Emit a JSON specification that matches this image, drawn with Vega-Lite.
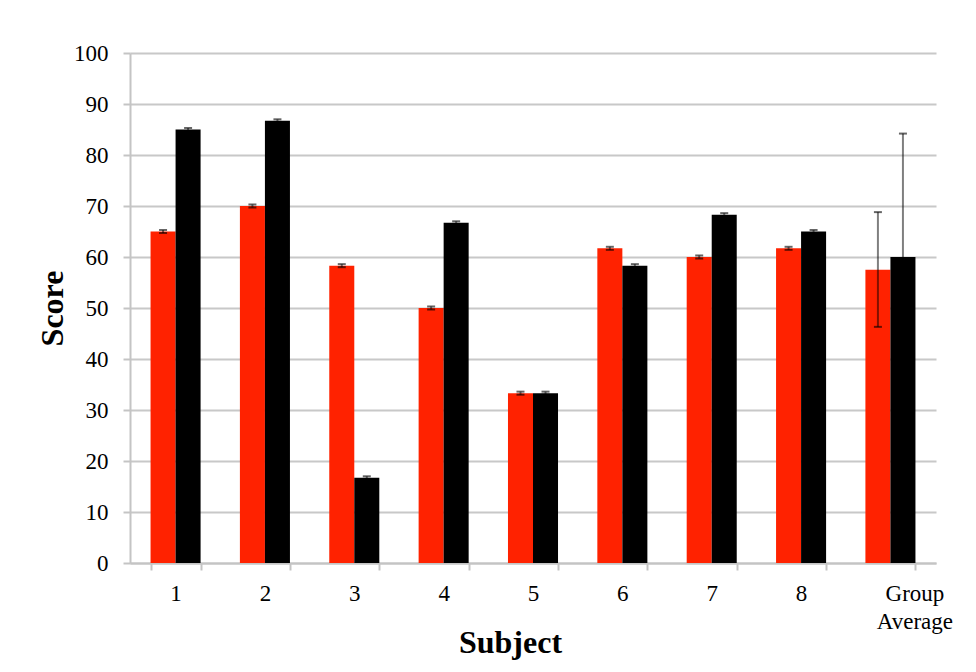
{
  "$schema": "https://vega.github.io/schema/vega-lite/v6.json",
  "width": 806,
  "height": 510,
  "autosize": {"type": "none"},
  "padding": {"left": 130, "top": 53, "right": 40, "bottom": 109},
  "background": "white",
  "config": {"view": {"stroke": null}, "font": "Liberation Serif"},
  "data": {
    "values": [
      {"subject": "1", "series": "A", "score": 65.0, "low": 64.7, "high": 65.3},
      {"subject": "1", "series": "B", "score": 85.0, "low": 84.7, "high": 85.3},
      {"subject": "2", "series": "A", "score": 70.0, "low": 69.7, "high": 70.3},
      {"subject": "2", "series": "B", "score": 86.7, "low": 86.4, "high": 87.0},
      {"subject": "3", "series": "A", "score": 58.3, "low": 58.0, "high": 58.6},
      {"subject": "3", "series": "B", "score": 16.7, "low": 16.4, "high": 17.0},
      {"subject": "4", "series": "A", "score": 50.0, "low": 49.7, "high": 50.3},
      {"subject": "4", "series": "B", "score": 66.7, "low": 66.4, "high": 67.0},
      {"subject": "5", "series": "A", "score": 33.3, "low": 33.0, "high": 33.6},
      {"subject": "5", "series": "B", "score": 33.3, "low": 33.0, "high": 33.6},
      {"subject": "6", "series": "A", "score": 61.7, "low": 61.4, "high": 62.0},
      {"subject": "6", "series": "B", "score": 58.3, "low": 58.0, "high": 58.6},
      {"subject": "7", "series": "A", "score": 60.0, "low": 59.7, "high": 60.3},
      {"subject": "7", "series": "B", "score": 68.3, "low": 68.0, "high": 68.6},
      {"subject": "8", "series": "A", "score": 61.7, "low": 61.4, "high": 62.0},
      {"subject": "8", "series": "B", "score": 65.0, "low": 64.7, "high": 65.3},
      {"subject": "Group Average", "series": "A", "score": 57.5, "low": 46.3, "high": 68.8},
      {"subject": "Group Average", "series": "B", "score": 60.0, "low": 35.8, "high": 84.2}
    ]
  },
  "encoding": {
    "x": {
      "field": "subject",
      "type": "ordinal",
      "sort": null,
      "scale": {"paddingInner": 0.44, "paddingOuter": 0.23},
      "axis": {
        "title": "Subject",
        "labelAngle": 0,
        "tickBand": "extent",
        "domainColor": "#c4c4c4",
        "domainWidth": 2,
        "tickColor": "#c4c4c4",
        "tickWidth": 2,
        "tickSize": 7,
        "labelFont": "Liberation Serif",
        "labelFontSize": 23,
        "labelColor": "#000000",
        "labelPadding": 12,
        "labelLineHeight": 28,
        "labelExpr": "datum.label == 'Group Average' ? ['Group', 'Average'] : datum.label",
        "labelOffset": {"condition": {"test": "datum.value == 'Group Average'", "value": 24}, "value": 0},
        "titleFont": "Liberation Serif",
        "titleFontSize": 32,
        "titleFontWeight": "bold",
        "titleColor": "#000000",
        "titleX": 380,
        "titleY": 89,
        "titleBaseline": "alphabetic"
      }
    },
    "xOffset": {
      "field": "series",
      "sort": ["A", "B"],
      "scale": {"paddingInner": 0, "paddingOuter": 0}
    }
  },
  "layer": [
    {
      "mark": {"type": "bar"},
      "encoding": {
        "y": {
          "field": "score",
          "type": "quantitative",
          "scale": {"domain": [0, 100], "nice": false},
          "axis": {
            "title": "Score",
            "values": [0, 10, 20, 30, 40, 50, 60, 70, 80, 90, 100],
            "grid": true,
            "gridColor": "#c8c8c8",
            "gridWidth": 2,
            "domainColor": "#c4c4c4",
            "domainWidth": 2,
            "tickColor": "#c4c4c4",
            "tickWidth": 2,
            "tickSize": 7,
            "labelFont": "Liberation Serif",
            "labelFontSize": 23,
            "labelColor": "#000000",
            "labelPadding": 15,
            "titleFont": "Liberation Serif",
            "titleFontSize": 32,
            "titleFontWeight": "bold",
            "titleColor": "#000000",
            "titleX": -68,
            "titleY": 255,
            "titleBaseline": "alphabetic"
          }
        },
        "color": {
          "field": "series",
          "type": "nominal",
          "scale": {"domain": ["A", "B"], "range": ["#ff2200", "#000000"]},
          "legend": null
        }
      }
    },
    {
      "mark": {"type": "rule", "color": "#000000", "opacity": 0.5, "strokeWidth": 2},
      "encoding": {
        "y": {"field": "low", "type": "quantitative"},
        "y2": {"field": "high"}
      }
    },
    {
      "mark": {"type": "tick", "color": "#000000", "opacity": 0.6, "thickness": 2, "size": 8},
      "encoding": {"y": {"field": "high", "type": "quantitative"}}
    },
    {
      "mark": {"type": "tick", "color": "#000000", "opacity": 0.6, "thickness": 2, "size": 8},
      "encoding": {"y": {"field": "low", "type": "quantitative"}}
    }
  ]
}
